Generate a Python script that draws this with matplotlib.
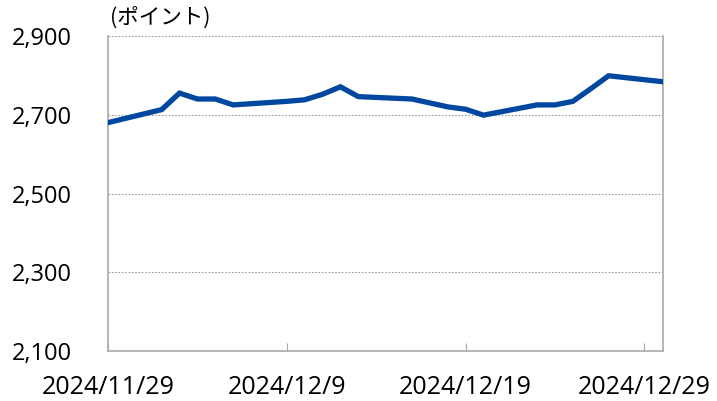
import matplotlib
matplotlib.use("Agg")
import matplotlib.pyplot as plt
import datetime as dt

plt.rcParams['font.family'] = ['Open Sans', 'Noto Sans CJK JP', 'DejaVu Sans']

dates = ["2024-11-29", "2024-12-02", "2024-12-03", "2024-12-04", "2024-12-05", "2024-12-06",
         "2024-12-09", "2024-12-10", "2024-12-11", "2024-12-12", "2024-12-13",
         "2024-12-16", "2024-12-17", "2024-12-18", "2024-12-19", "2024-12-20",
         "2024-12-23", "2024-12-24", "2024-12-25", "2024-12-26", "2024-12-27", "2024-12-30"]
values = [2680, 2713, 2755, 2740, 2740, 2725,
          2734, 2738, 2752, 2771, 2746,
          2740, 2730, 2720, 2714, 2699,
          2725, 2725, 2734, 2766, 2799, 2784]
yticks = [2100, 2300, 2500, 2700, 2900]
ytick_labels = ["2,100", "2,300", "2,500", "2,700", "2,900"]
xticks = ["2024-11-29", "2024-12-09", "2024-12-19", "2024-12-29"]
xtick_labels = ["2024/11/29", "2024/12/9", "2024/12/19", "2024/12/29"]
unit_label = "(ポイント)"

x = [dt.datetime.strptime(d, "%Y-%m-%d") for d in dates]
xt = [dt.datetime.strptime(d, "%Y-%m-%d") for d in xticks]

fig = plt.figure(figsize=(7.17, 4.01), dpi=100)
ax = fig.add_axes([108/717, 1-351/401, (663-108)/717, (351-36)/401])

ax.plot(x, values, color='#0047a0', lw=3.8, solid_joinstyle='miter', zorder=3)

ax.set_ylim(2100, 2900)
ax.set_xlim(dt.datetime(2024, 11, 29), dt.datetime(2024, 12, 30, 1))
ax.set_yticks(yticks)
ax.set_yticklabels(ytick_labels, fontsize=17)
ax.set_xticks(xt)
ax.set_xticklabels(xtick_labels, fontsize=18)
ax.tick_params(axis='y', length=0, pad=26)
ax.tick_params(axis='x', direction='in', length=6, color='#aaaaaa', pad=17)
for lbl in ax.get_yticklabels():
    lbl.set_horizontalalignment('right')

for v in yticks[1:]:
    ax.axhline(v, color='#999999', lw=0.8, ls=(0, (1.5, 1.5)), zorder=1)

for s in ['left', 'bottom', 'right']:
    ax.spines[s].set_color('#aaaaaa')
    ax.spines[s].set_linewidth(1.2)
ax.spines['top'].set_visible(False)

fig.text(110/717, 1-18/401, unit_label, fontsize=15.5, ha='left', va='center',
         family=['Noto Sans CJK JP', 'DejaVu Sans'])

fig.savefig("out.png", dpi=100)
